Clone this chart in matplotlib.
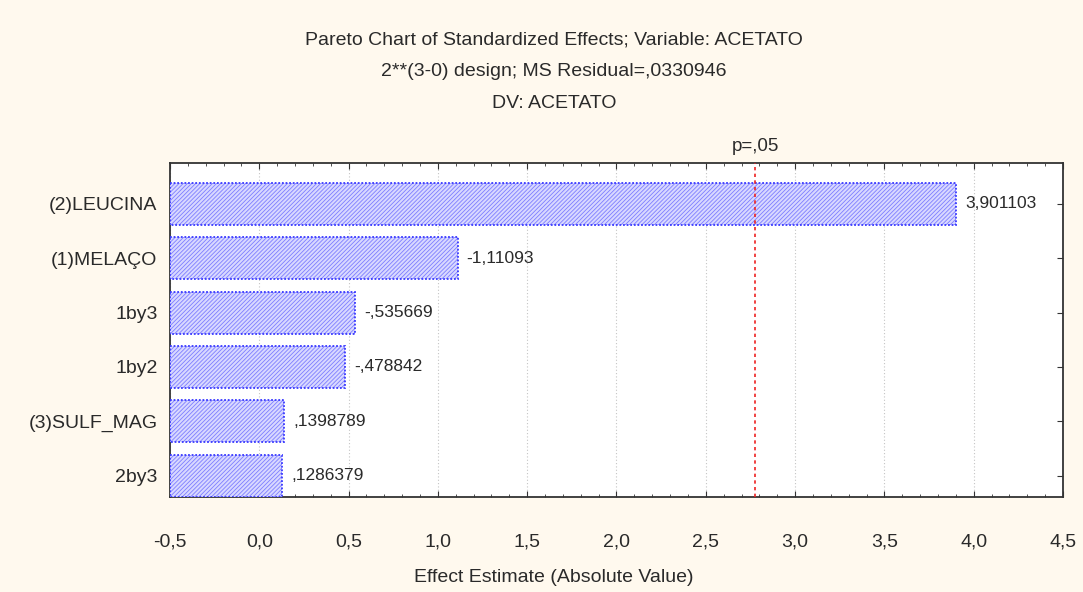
from matplotlib import pyplot as plt
from matplotlib.ticker import MultipleLocator, FuncFormatter

# Effects, top to bottom as they appear on the chart
FACTORS = ["(2)LEUCINA", "(1)MELAÇO", "1by3", "1by2", "(3)SULF_MAG", "2by3"]
EFFECTS = [3.901103, -1.11093, -0.535669, -0.478842, 0.1398789, 0.1286379]
EFFECT_LABELS = ["3,901103", "-1,11093", "-,535669", "-,478842", ",1398789", ",1286379"]
P_CRIT = 2.776445

BG = "#FFF9EE"
BAR_FACE = "#D8D8FF"
HATCH = "#7D7DFF"
BAR_EDGE = "#3838FF"
TEXT = "#2A2A2A"
XMIN, XMAX = -0.5, 4.5

plt.rcParams["font.family"] = ["Liberation Sans", "DejaVu Sans"]
plt.rcParams["hatch.linewidth"] = 0.6


def comma(x, pos):
    return f"{x:.1f}".replace(".", ",")


def main():
    fig = plt.figure(figsize=(10.83, 5.92), dpi=100, facecolor=BG)
    ax = fig.add_axes([0.157, 0.1605, 0.8245, 0.5642])
    ax.set_facecolor("white")

    ypos = list(range(len(FACTORS)))
    widths = [abs(v) - XMIN for v in EFFECTS]
    # hatched fill, then the dotted outline on top
    ax.barh(ypos, widths, left=XMIN, height=0.77, color=BAR_FACE,
            edgecolor=HATCH, linewidth=0, hatch="////////", zorder=3)
    ax.barh(ypos, widths, left=XMIN, height=0.77, fill=False,
            edgecolor=BAR_EDGE, linewidth=1.3, linestyle=(0, (1, 1)), zorder=3)

    for y, v, lab in zip(ypos, EFFECTS, EFFECT_LABELS):
        ax.text(abs(v) + 0.05, y, lab, va="center", ha="left", fontsize=12.5,
                color=TEXT, zorder=4)

    ax.axvline(P_CRIT, color="#EE2222", linestyle=(0, (2, 2)), linewidth=1.2, zorder=4)
    ax.text(P_CRIT, -0.9, "p=,05", ha="center", va="bottom", fontsize=13.5,
            color=TEXT, clip_on=False)

    ax.set_xlim(XMIN, XMAX)
    ax.set_ylim(5.39, -0.75)
    ax.set_yticks(ypos)
    ax.set_yticklabels(FACTORS, fontsize=14, color=TEXT)
    ax.xaxis.set_major_locator(MultipleLocator(0.5))
    ax.xaxis.set_minor_locator(MultipleLocator(0.1))
    ax.xaxis.set_major_formatter(FuncFormatter(comma))
    ax.tick_params(axis="x", labelsize=14, pad=26, labelcolor=TEXT)
    ax.tick_params(axis="y", pad=9)
    ax.tick_params(which="both", direction="in", top=True, right=True,
                   color="#333333")
    ax.tick_params(which="major", length=4)
    ax.tick_params(which="minor", length=2)
    ax.grid(axis="x", which="major", color="#C4C4C4", linestyle=(0, (1, 2)),
            linewidth=0.8, zorder=0)
    for s in ax.spines.values():
        s.set_color("#333333")
        s.set_linewidth(1.3)

    cx = 554 / 1083
    fig.text(cx, 1 - 40 / 592, "Pareto Chart of Standardized Effects; Variable: ACETATO",
             ha="center", va="center", fontsize=14, color=TEXT)
    fig.text(cx, 1 - 72 / 592, "2**(3-0) design; MS Residual=,0330946",
             ha="center", va="center", fontsize=14, color=TEXT)
    fig.text(cx, 1 - 103 / 592, "DV: ACETATO",
             ha="center", va="center", fontsize=14, color=TEXT)
    fig.text(cx, 1 - 577 / 592, "Effect Estimate (Absolute Value)",
             ha="center", va="center", fontsize=14, color=TEXT)

    fig.savefig("out.png", dpi=100, facecolor=BG)


if __name__ == "__main__":
    main()
